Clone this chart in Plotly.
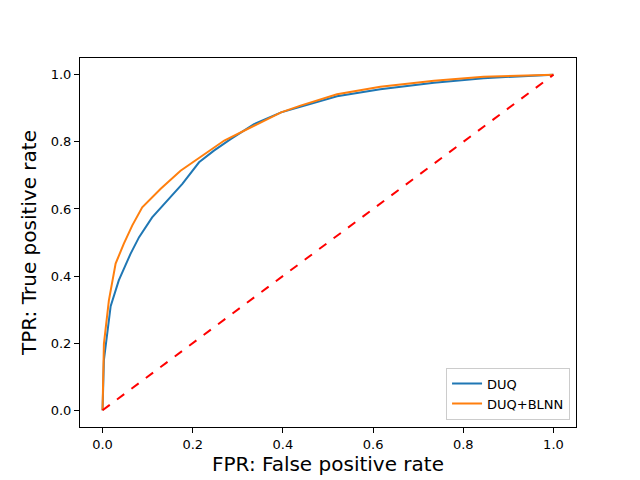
import plotly.graph_objects as go

# ROC noktaları (resimden okunan yaklaşık değerler)
duq_fpr = [0.0, 0.003, 0.018, 0.036, 0.062, 0.081, 0.11, 0.147, 0.177, 0.214,
           0.247, 0.284, 0.336, 0.396, 0.44, 0.52, 0.616, 0.735, 0.845, 0.93, 1.0]
duq_tpr = [0.0, 0.149, 0.31, 0.387, 0.466, 0.516, 0.575, 0.63, 0.675, 0.739,
           0.774, 0.808, 0.853, 0.888, 0.905, 0.936, 0.957, 0.976, 0.99, 0.996, 1.0]

blnn_fpr = [0.0, 0.003, 0.014, 0.029, 0.047, 0.066, 0.088, 0.129, 0.173, 0.21,
            0.27, 0.336, 0.396, 0.439, 0.52, 0.616, 0.735, 0.845, 0.93, 1.0]
blnn_tpr = [0.0, 0.198, 0.327, 0.437, 0.496, 0.551, 0.605, 0.66, 0.714, 0.749,
            0.804, 0.848, 0.888, 0.908, 0.942, 0.964, 0.982, 0.994, 0.998, 1.0]

diag = [0.0, 1.0]
ticks = [0.0, 0.2, 0.4, 0.6, 0.8, 1.0]
tick_labels = ["0.0", "0.2", "0.4", "0.6", "0.8", "1.0"]

fig = go.Figure()
fig.add_trace(go.Scatter(x=duq_fpr, y=duq_tpr, mode="lines", name="DUQ",
                         line=dict(color="#1f77b4", width=2)))
fig.add_trace(go.Scatter(x=blnn_fpr, y=blnn_tpr, mode="lines", name="DUQ+BLNN",
                         line=dict(color="#ff7f0e", width=2)))
fig.add_trace(go.Scatter(x=diag, y=diag, mode="lines", showlegend=False,
                         line=dict(color="red", width=2, dash="dash")))

axis_common = dict(
    tickvals=ticks, ticktext=tick_labels, showgrid=False, zeroline=False,
    showline=True, linecolor="black", linewidth=1, mirror=True,
    ticks="outside", ticklen=5, tickcolor="black", automargin=False,
    tickfont=dict(size=13, color="black"),
)
fig.update_xaxes(range=[-0.05, 1.05],
                 title=dict(text="FPR: False positive rate", font=dict(size=20, color="black"),
                            standoff=4),
                 **axis_common)
fig.update_yaxes(range=[-0.05, 1.05],
                 title=dict(text="TPR: True positive rate", font=dict(size=20, color="black"),
                            standoff=8),
                 **axis_common)

# sayfa gövdesi 8px kaydırıyor, boyutlar buna göre
fig.update_layout(
    width=632, height=472,
    margin=dict(l=72, r=64, t=50, b=53),
    paper_bgcolor="white", plot_bgcolor="white",
    font=dict(family="DejaVu Sans", color="black"),
    legend=dict(x=0.988, y=0.02, xanchor="right", yanchor="bottom",
                bgcolor="rgba(255,255,255,0.8)", bordercolor="#cccccc", borderwidth=1,
                font=dict(size=13)),
)

fig.write_html("out.html")
